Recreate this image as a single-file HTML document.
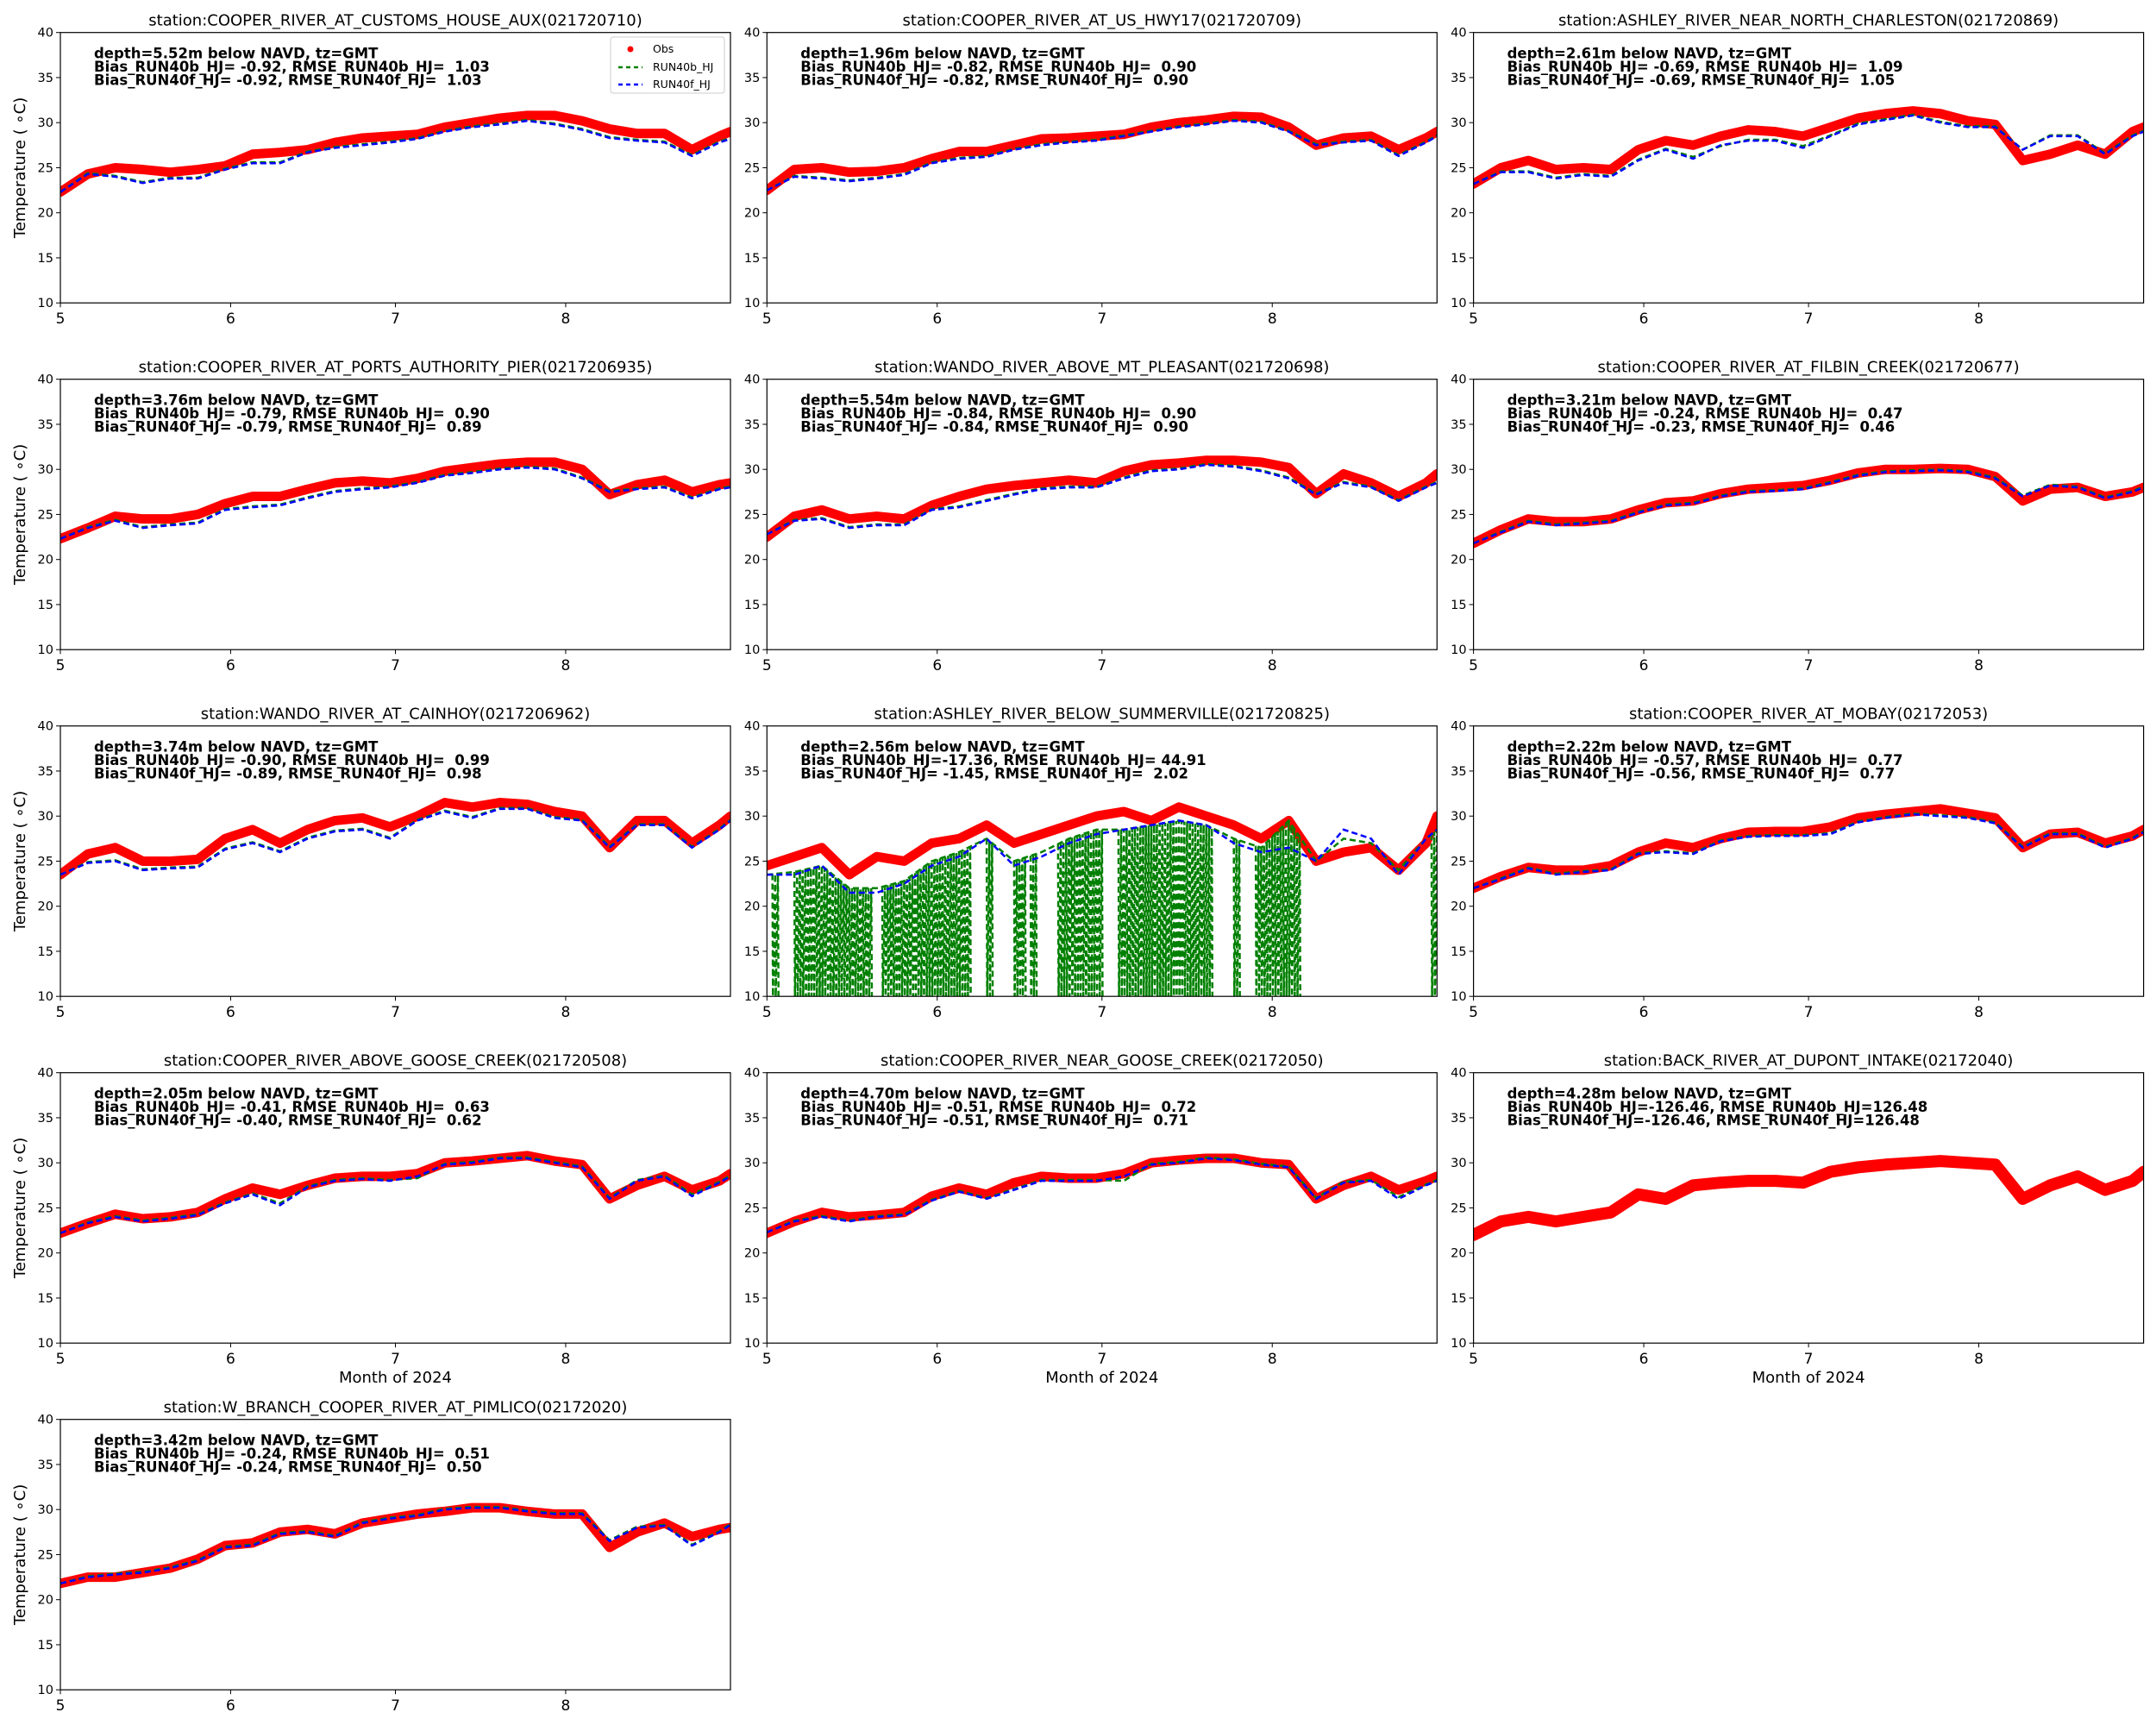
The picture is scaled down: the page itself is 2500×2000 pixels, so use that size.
<!DOCTYPE html>
<html><head><meta charset="utf-8">
<style>
html,body{margin:0;padding:0;background:#fff;}
svg{display:block;font-family:"DejaVu Sans","Liberation Sans",sans-serif;}
</style></head>
<body>
<svg id="fig" width="2500" height="2000" viewBox="0 0 2500 2000" xmlns="http://www.w3.org/2000/svg"></svg>
<script>
// sample days (days since May 1, 2024)
const days = [0,5,10,15,20,25,30,35,40,45,50,55,60,65,70,75,80,85,90,95,100,105,110,115,120,122];
const monthTickDays = [0,31,61,92];
const monthTickLabels = ["5","6","7","8"];
const yTicks = [10,15,20,25,30,35,40];

const titles = [
 "station:COOPER_RIVER_AT_CUSTOMS_HOUSE_AUX(021720710)",
 "station:COOPER_RIVER_AT_US_HWY17(021720709)",
 "station:ASHLEY_RIVER_NEAR_NORTH_CHARLESTON(021720869)",
 "station:COOPER_RIVER_AT_PORTS_AUTHORITY_PIER(0217206935)",
 "station:WANDO_RIVER_ABOVE_MT_PLEASANT(021720698)",
 "station:COOPER_RIVER_AT_FILBIN_CREEK(021720677)",
 "station:WANDO_RIVER_AT_CAINHOY(0217206962)",
 "station:ASHLEY_RIVER_BELOW_SUMMERVILLE(021720825)",
 "station:COOPER_RIVER_AT_MOBAY(02172053)",
 "station:COOPER_RIVER_ABOVE_GOOSE_CREEK(021720508)",
 "station:COOPER_RIVER_NEAR_GOOSE_CREEK(02172050)",
 "station:BACK_RIVER_AT_DUPONT_INTAKE(02172040)",
 "station:W_BRANCH_COOPER_RIVER_AT_PIMLICO(02172020)"
];
const notes = [
 ["depth=5.52m below NAVD, tz=GMT","Bias_RUN40b_HJ= -0.92, RMSE_RUN40b_HJ=  1.03","Bias_RUN40f_HJ= -0.92, RMSE_RUN40f_HJ=  1.03"],
 ["depth=1.96m below NAVD, tz=GMT","Bias_RUN40b_HJ= -0.82, RMSE_RUN40b_HJ=  0.90","Bias_RUN40f_HJ= -0.82, RMSE_RUN40f_HJ=  0.90"],
 ["depth=2.61m below NAVD, tz=GMT","Bias_RUN40b_HJ= -0.69, RMSE_RUN40b_HJ=  1.09","Bias_RUN40f_HJ= -0.69, RMSE_RUN40f_HJ=  1.05"],
 ["depth=3.76m below NAVD, tz=GMT","Bias_RUN40b_HJ= -0.79, RMSE_RUN40b_HJ=  0.90","Bias_RUN40f_HJ= -0.79, RMSE_RUN40f_HJ=  0.89"],
 ["depth=5.54m below NAVD, tz=GMT","Bias_RUN40b_HJ= -0.84, RMSE_RUN40b_HJ=  0.90","Bias_RUN40f_HJ= -0.84, RMSE_RUN40f_HJ=  0.90"],
 ["depth=3.21m below NAVD, tz=GMT","Bias_RUN40b_HJ= -0.24, RMSE_RUN40b_HJ=  0.47","Bias_RUN40f_HJ= -0.23, RMSE_RUN40f_HJ=  0.46"],
 ["depth=3.74m below NAVD, tz=GMT","Bias_RUN40b_HJ= -0.90, RMSE_RUN40b_HJ=  0.99","Bias_RUN40f_HJ= -0.89, RMSE_RUN40f_HJ=  0.98"],
 ["depth=2.56m below NAVD, tz=GMT","Bias_RUN40b_HJ=-17.36, RMSE_RUN40b_HJ= 44.91","Bias_RUN40f_HJ= -1.45, RMSE_RUN40f_HJ=  2.02"],
 ["depth=2.22m below NAVD, tz=GMT","Bias_RUN40b_HJ= -0.57, RMSE_RUN40b_HJ=  0.77","Bias_RUN40f_HJ= -0.56, RMSE_RUN40f_HJ=  0.77"],
 ["depth=2.05m below NAVD, tz=GMT","Bias_RUN40b_HJ= -0.41, RMSE_RUN40b_HJ=  0.63","Bias_RUN40f_HJ= -0.40, RMSE_RUN40f_HJ=  0.62"],
 ["depth=4.70m below NAVD, tz=GMT","Bias_RUN40b_HJ= -0.51, RMSE_RUN40b_HJ=  0.72","Bias_RUN40f_HJ= -0.51, RMSE_RUN40f_HJ=  0.71"],
 ["depth=4.28m below NAVD, tz=GMT","Bias_RUN40b_HJ=-126.46, RMSE_RUN40b_HJ=126.48","Bias_RUN40f_HJ=-126.46, RMSE_RUN40f_HJ=126.48"],
 ["depth=3.42m below NAVD, tz=GMT","Bias_RUN40b_HJ= -0.24, RMSE_RUN40b_HJ=  0.51","Bias_RUN40f_HJ= -0.24, RMSE_RUN40f_HJ=  0.50"]
];

// Observations
const obs1 = [22.3,24.3,25.0,24.8,24.5,24.8,25.2,26.5,26.7,27.0,27.8,28.3,28.5,28.7,29.5,30.0,30.5,30.8,30.8,30.2,29.3,28.8,28.8,27.0,28.5,29.0];
const obs2 = [22.5,24.8,25.0,24.5,24.6,25.0,26.0,26.8,26.8,27.5,28.2,28.3,28.5,28.7,29.5,30.0,30.3,30.7,30.6,29.5,27.5,28.3,28.5,27.0,28.3,29.0];
const obs3 = [23.2,25.0,25.8,24.8,25.0,24.8,27.0,28.0,27.5,28.5,29.2,29.0,28.5,29.5,30.5,31.0,31.3,31.0,30.2,29.8,25.8,26.5,27.5,26.5,29.0,29.5];
const obs4 = [22.3,23.5,24.8,24.5,24.5,25.0,26.2,27.0,27.0,27.8,28.5,28.7,28.5,29.0,29.8,30.2,30.6,30.8,30.8,30.0,27.2,28.3,28.8,27.5,28.3,28.5];
const obs5 = [22.5,24.8,25.5,24.5,24.8,24.5,26.0,27.0,27.8,28.2,28.5,28.8,28.5,29.8,30.5,30.7,31.0,31.0,30.8,30.2,27.3,29.5,28.5,27.0,28.5,29.5];
const obs6 = [21.8,23.3,24.5,24.2,24.2,24.5,25.5,26.3,26.5,27.3,27.8,28.0,28.2,28.8,29.6,30.0,30.0,30.1,30.0,29.2,26.5,27.8,28.0,27.0,27.5,28.0];
const obs7 = [23.5,25.8,26.5,25.0,25.0,25.2,27.5,28.5,27.0,28.5,29.5,29.8,28.8,30.0,31.5,31.0,31.5,31.3,30.5,30.0,26.5,29.5,29.5,27.0,29.0,30.0];
const obs8 = [24.5,25.5,26.5,23.5,25.5,25.0,27.0,27.5,29.0,27.0,28.0,29.0,30.0,30.5,29.5,31.0,30.0,29.0,27.5,29.5,25.0,26.0,26.5,24.0,27.0,30.0];
const obs9 = [22.0,23.3,24.3,24.0,24.0,24.5,26.0,27.0,26.5,27.5,28.2,28.3,28.3,28.8,29.8,30.2,30.5,30.8,30.3,29.8,26.5,28.0,28.2,27.0,27.8,28.5];
const obs10 = [22.2,23.3,24.3,23.8,24.0,24.5,26.0,27.2,26.5,27.5,28.3,28.5,28.5,28.8,30.0,30.2,30.5,30.8,30.2,29.8,26.0,27.5,28.5,27.0,28.0,28.8];
const obs11 = [22.2,23.5,24.5,24.0,24.2,24.5,26.3,27.2,26.5,27.8,28.5,28.3,28.3,28.8,30.0,30.3,30.5,30.5,30.0,29.8,26.0,27.5,28.5,27.0,28.0,28.5];
const obs12 = [22.0,23.5,24.0,23.5,24.0,24.5,26.5,26.0,27.5,27.8,28.0,28.0,27.8,29.0,29.5,29.8,30.0,30.2,30.0,29.8,26.0,27.5,28.5,27.0,28.0,29.0];
const obs13 = [21.8,22.5,22.5,23.0,23.5,24.5,26.0,26.3,27.5,27.8,27.3,28.5,29.0,29.5,29.8,30.2,30.2,29.8,29.5,29.5,25.8,27.5,28.5,27.0,27.8,28.0];

// RUN40f_HJ (blue)
const f1 = [22.3,24.3,24.0,23.3,23.8,23.8,24.8,25.5,25.5,26.7,27.2,27.5,27.8,28.2,29.0,29.5,29.8,30.2,29.8,29.2,28.3,28.0,27.8,26.3,27.8,28.2];
const f2 = [22.5,24.0,23.8,23.5,23.8,24.2,25.5,26.0,26.2,27.0,27.5,27.8,28.0,28.5,29.0,29.5,29.8,30.2,30.0,29.0,27.5,27.8,28.0,26.3,27.8,28.5];
const f3 = [23.2,24.5,24.5,23.8,24.2,24.0,25.8,27.0,26.0,27.5,28.0,28.0,27.2,28.5,29.8,30.3,30.8,30.0,29.5,29.5,27.0,28.5,28.5,26.5,28.5,29.0];
const f4 = [22.3,23.5,24.3,23.5,23.8,24.0,25.5,25.8,26.0,26.8,27.5,27.8,28.0,28.5,29.3,29.6,30.0,30.2,30.0,29.0,27.5,27.8,28.0,26.8,27.8,28.0];
const f5 = [22.8,24.3,24.5,23.5,23.8,23.8,25.5,25.8,26.5,27.2,27.8,28.0,28.0,29.0,29.8,30.0,30.5,30.3,29.8,29.0,27.2,28.5,28.0,26.5,28.0,28.5];
const f6 = [21.8,23.0,24.2,23.8,24.0,24.2,25.2,26.0,26.2,27.0,27.5,27.6,27.8,28.5,29.3,29.7,29.8,29.9,29.7,29.0,27.0,28.2,28.0,26.8,27.5,28.0];
const f7 = [23.5,24.8,25.0,24.0,24.2,24.3,26.3,27.0,26.0,27.5,28.3,28.5,27.5,29.5,30.5,29.8,30.8,30.8,29.8,29.5,26.5,29.0,29.0,26.5,28.5,29.5];
const f8 = [23.5,23.5,24.5,21.5,21.5,22.5,24.5,25.5,27.5,24.5,25.5,27.0,28.0,28.5,29.0,29.5,29.0,27.0,26.0,26.5,25.0,28.5,27.5,23.5,27.5,28.5];
const f9 = [22.0,23.0,24.2,23.5,23.8,24.0,25.8,26.0,25.8,27.2,27.7,27.8,27.8,28.0,29.3,29.8,30.2,30.0,29.8,29.2,26.5,28.0,28.0,26.5,27.5,28.2];
const f10 = [22.2,23.3,24.0,23.5,23.8,24.2,25.5,26.5,25.3,27.3,28.0,28.2,28.0,28.5,29.8,30.0,30.5,30.5,30.0,29.5,26.0,28.0,28.5,26.3,27.8,28.5];
const f11 = [22.3,23.5,24.0,23.5,24.0,24.2,25.8,26.8,26.0,27.0,28.0,28.0,28.0,28.5,29.8,30.0,30.5,30.3,29.8,29.5,26.0,27.8,28.0,26.0,27.5,28.0];
const f13 = [21.8,22.5,22.8,23.0,23.5,24.3,25.8,26.0,27.3,27.5,27.0,28.5,29.0,29.3,30.0,30.2,30.2,29.8,29.5,29.5,26.5,28.0,28.2,26.0,27.5,28.3];

// RUN40b_HJ (green)
const b1 = [22.3,24.4,24.1,23.4,23.9,23.9,24.9,25.6,25.6,26.8,27.3,27.6,27.9,28.3,29.1,29.6,29.9,30.3,29.9,29.3,28.4,28.1,27.9,26.4,27.9,28.3];
const b2 = [22.5,24.1,23.9,23.6,23.9,24.3,25.6,26.1,26.3,27.1,27.6,27.9,28.1,28.6,29.1,29.6,29.9,30.3,30.1,29.1,27.6,27.9,28.1,26.4,27.9,28.6];
const b3 = [23.2,24.6,24.6,23.9,24.3,24.1,25.9,27.1,26.2,27.4,28.1,28.1,27.4,28.6,29.9,30.4,30.9,30.1,29.6,29.6,27.0,28.6,28.6,26.6,28.6,29.1];
const b4 = [22.3,23.6,24.4,23.6,23.9,24.1,25.6,25.9,26.1,26.9,27.6,27.9,28.1,28.6,29.4,29.7,30.1,30.3,30.1,29.1,27.6,27.9,28.1,26.9,27.9,28.1];
const b5 = [22.8,24.4,24.6,23.6,23.9,23.9,25.6,25.9,26.6,27.3,27.9,28.1,28.1,29.1,29.9,30.1,30.6,30.4,29.9,29.1,27.3,28.6,28.1,26.6,28.1,28.6];
const b6 = [21.8,23.1,24.3,23.9,24.1,24.3,25.3,26.1,26.3,27.1,27.6,27.7,27.9,28.6,29.4,29.8,29.9,30.0,29.8,29.1,27.1,28.3,28.1,26.9,27.6,28.1];
const b7 = [23.5,24.9,25.1,24.1,24.3,24.4,26.4,27.1,26.1,27.6,28.4,28.6,27.6,29.6,30.6,29.9,30.9,30.9,29.9,29.6,26.6,29.1,29.1,26.6,28.6,29.6];
const b8 = [23.5,23.8,24.5,22.0,22.0,22.8,25.0,26.0,27.5,25.0,26.0,27.5,28.5,28.5,29.0,29.5,29.0,27.5,26.5,29.5,25.0,27.5,27.0,24.0,27.5,28.5];
const b9 = [22.0,23.1,24.3,23.6,23.9,24.1,25.9,26.1,25.9,27.3,27.8,27.9,27.9,28.1,29.4,29.9,30.3,30.1,29.9,29.3,26.6,28.1,28.1,26.6,27.6,28.3];
const b10 = [22.2,23.4,24.1,23.6,23.9,24.3,25.6,26.6,25.5,27.4,28.1,28.3,28.1,28.3,29.9,30.1,30.6,30.6,30.1,29.6,26.1,28.1,28.6,26.5,27.9,28.6];
const b11 = [22.3,23.6,24.1,23.6,24.1,24.3,25.9,26.9,26.1,27.1,28.1,28.1,28.1,28.0,29.9,30.1,30.6,30.4,29.9,29.6,26.1,27.9,28.1,26.2,27.6,28.1];
const b13 = [21.8,22.6,22.9,23.1,23.6,24.4,25.9,26.1,27.4,27.6,27.1,28.6,29.1,29.4,30.1,30.3,30.3,29.9,29.6,29.6,26.6,28.1,28.3,26.1,27.6,28.4];

// RUN40b dropout intervals at Summerville (days), where the series drops to 10
const dropStart = [1,5,21,40,45,48,53,64,85,89,121];
const dropEnd   = [2,19,37,41,47,49,61,81,86,97,122];

const obsSeries = [obs1,obs2,obs3,obs4,obs5,obs6,obs7,obs8,obs9,obs10,obs11,obs12,obs13];
const fSeries = [f1,f2,f3,f4,f5,f6,f7,f8,f9,f10,f11,null,f13];
const bSeries = [b1,b2,b3,b4,b5,b6,b7,b8,b9,b10,b11,null,b13];

const NS = "http://www.w3.org/2000/svg";
const svg = document.getElementById('fig');
const colX = [70, 889.3, 1708.6];
const rowY = [37.7, 439.7, 841.7, 1243.7, 1645.7];
const PW = 777, PH = 313.5, DMAX = 122;

function mk(tag, attrs, parent){
  const e = document.createElementNS(NS, tag);
  for (const k in attrs) e.setAttribute(k, attrs[k]);
  (parent||svg).appendChild(e);
  return e;
}

for (let i = 0; i < 13; i++) {
  const r = Math.floor(i/3), c = i%3;
  const L = colX[c], T = rowY[r];
  const xs = d => L + d/DMAX*PW;
  const ys = v => T + (40 - v)/30*PH;
  const g = mk('g', {});
  
  

  const clipId = 'clip' + i;
  const cp = mk('clipPath', {id: clipId}, g);
  mk('rect', {x: L, y: T, width: PW, height: PH}, cp);

  const tt = mk('text', {x: L + PW/2, y: T - 8, 'text-anchor': 'middle', 'font-size': '18', fill: '#000'}, g);
  
  
  tt.textContent = titles[i];

  yTicks.forEach(v => {
    mk('line', {x1: L-5, x2: L, y1: ys(v), y2: ys(v), stroke: '#000', 'stroke-width': 1}, g);
    const t = mk('text', {x: L-8, y: ys(v)+5, 'text-anchor': 'end', 'font-size': '14.5', fill: '#000'}, g);
    
    
    t.textContent = v;
  });
  monthTickDays.forEach((d, k) => {
    mk('line', {x1: xs(d), x2: xs(d), y1: T+PH, y2: T+PH+5, stroke: '#000', 'stroke-width': 1}, g);
    const t = mk('text', {x: xs(d), y: T+PH+24, 'text-anchor': 'middle', 'font-size': '17', fill: '#000'}, g);
    
    
    t.textContent = monthTickLabels[k];
  });

  if (c === 0) {
    const yl = mk('text', {x: 0, y: 0, 'text-anchor': 'middle', 'font-size': '18', fill: '#000',
      transform: `translate(29,${T+PH/2}) rotate(-90)`}, g);
    
    
    yl.textContent = 'Temperature ( \u2218C)';
  }
  if (r === 3) {
    const xl = mk('text', {x: L+PW/2, y: T+PH+46, 'text-anchor': 'middle', 'font-size': '18', fill: '#000'}, g);
    
    
    xl.textContent = 'Month of 2024';
  }

  const pg = mk('g', {'clip-path': `url(#${clipId})`}, g);
  const o = obsSeries[i];
  const op = mk('polyline', {points: days.map((d,k)=>xs(d)+','+ys(o[k])).join(' '), fill: 'none', stroke: '#ff0000',
    'stroke-width': i===11 ? 14 : 11, 'stroke-linejoin': 'round', 'stroke-linecap': 'round'}, pg);
  
  

  if (bSeries[i]) {
    const b = bSeries[i];
    const bp = mk('polyline', {points: days.map((d,k)=>xs(d)+','+ys(b[k])).join(' '), fill: 'none', stroke: '#008000',
      'stroke-width': 2.5, 'stroke-dasharray': '7,4'}, pg);
    
    
    if (i === 7) {
      dropStart.forEach((s, k) => {
        const e = dropEnd[k];
        let pts = [];
        for (let d = s; d <= e; d += 0.5) {
          let j = 0; while (j < days.length-2 && days[j+1] < d) j++;
          const t = (d - days[j])/(days[j+1]-days[j]);
          const v = b[j] + (b[j+1]-b[j])*Math.min(1,Math.max(0,t));
          pts.push(xs(d)+','+ys(v)); pts.push(xs(d+0.1)+','+ys(10));
        }
        const dp = mk('polyline', {points: pts.join(' '), fill: 'none', stroke: '#008000', 'stroke-width': 2.5, 'stroke-dasharray': '7,4'}, pg);
        
        
      });
    }
  }
  if (fSeries[i]) {
    const f = fSeries[i];
    const fp = mk('polyline', {points: days.map((d,k)=>xs(d)+','+ys(f[k])).join(' '), fill: 'none', stroke: '#0000ff',
      'stroke-width': 2.5, 'stroke-dasharray': '7,4'}, pg);
    
    
  }

  const fr = mk('rect', {x: L, y: T, width: PW, height: PH, fill: 'none', stroke: '#000', 'stroke-width': 1.2}, g);
  
  

  notes[i].forEach((s, k) => {
    const t = mk('text', {x: L+39, y: T+30+k*15.5, 'font-size': '16.5', 'font-weight': 'bold', fill: '#000', 'xml:space': 'preserve', style: 'white-space:pre'}, g);
    
    
    t.textContent = s;
  });

  if (i === 0) {
    const lg = mk('g', {}, g);
    
    
    mk('rect', {x: 708, y: 43, width: 132, height: 65, rx: 3, fill: '#fff', 'fill-opacity': 0.8, stroke: '#ccc', 'stroke-width': 1}, lg);
    mk('circle', {cx: 731, cy: 57, r: 3.5, fill: '#ff0000'}, lg);
    mk('line', {x1: 717, x2: 745, y1: 78, y2: 78, stroke: '#008000', 'stroke-width': 2.5, 'stroke-dasharray': '5,4'}, lg);
    mk('line', {x1: 717, x2: 745, y1: 98, y2: 98, stroke: '#0000ff', 'stroke-width': 2.5, 'stroke-dasharray': '5,4'}, lg);
    [['Obs',61],['RUN40b_HJ',82],['RUN40f_HJ',102]].forEach(([s,y]) => {
      const t = mk('text', {x: 757, y: y, 'font-size': '12.5', fill: '#000'}, lg);
      
      
      t.textContent = s;
    });
  }
}
</script>
</body></html>
